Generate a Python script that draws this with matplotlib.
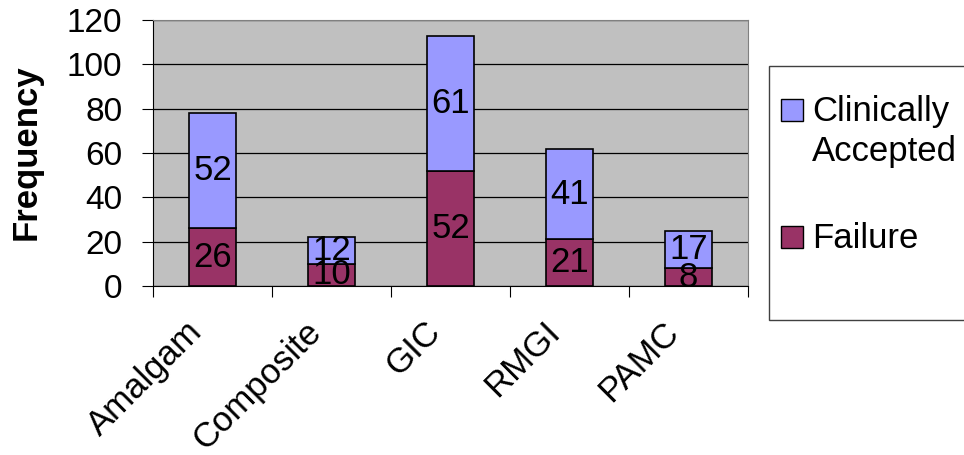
import matplotlib
matplotlib.use('agg')
import matplotlib.pyplot as plt
from matplotlib.patches import Rectangle
import numpy as np

plt.rcParams['font.family'] = ['Liberation Sans', 'DejaVu Sans']

materials = ["Amalgam", "Composite", "GIC", "RMGI", "PAMC"]
failure = [26, 10, 52, 21, 8]
accepted = [52, 12, 61, 41, 17]
y_ticks = [0, 20, 40, 60, 80, 100, 120]

col_acc = "#9999FF"
col_fail = "#993366"

W, H = 964, 455
fig = plt.figure(figsize=(W / 100, H / 100), dpi=100)
ax = fig.add_axes([153 / W, 1 - 286 / H, 595 / W, 266 / H])
ax.set_facecolor("#C0C0C0")

x = np.arange(len(materials))
b1 = ax.bar(x, failure, width=0.4, color=col_fail, edgecolor="black", linewidth=1.2, zorder=3)
b2 = ax.bar(x, accepted, width=0.4, bottom=failure, color=col_acc, edgecolor="black", linewidth=1.2,
            zorder=3)

# values in the middle of each segment
for i in range(len(materials)):
    ax.text(x[i], failure[i] / 2, str(failure[i]), ha="center", va="center", fontsize=25,
            zorder=5, clip_on=False)
    ax.text(x[i], failure[i] + accepted[i] / 2, str(accepted[i]), ha="center", va="center",
            fontsize=25, zorder=5, clip_on=False)

ax.set_xlim(-0.5, len(materials) - 0.5)
ax.set_ylim(0, 120)
ax.set_yticks(y_ticks)
ax.set_yticklabels([str(v) for v in y_ticks], fontsize=24)
ax.yaxis.grid(True, color="black", linewidth=0.9, zorder=1)
ax.set_axisbelow(True)

# category ticks sit at the boundaries; names are placed under each bar
ax.set_xticks(np.arange(len(materials) + 1) - 0.5)
ax.set_xticklabels([])
ax.tick_params(axis="x", length=8, direction="out", color="black")
ax.tick_params(axis="y", length=8, direction="out", pad=14)
for i, name in enumerate(materials):
    ax.annotate(name, xy=(x[i], 0), xycoords=("data", "axes fraction"),
                xytext=(-15, -41), textcoords="offset pixels", rotation=45,
                rotation_mode="anchor", ha="right", va="center", fontsize=25,
                annotation_clip=False)

for s in ["top", "right"]:
    ax.spines[s].set_color("#808080")
ax.spines["left"].set_color("black")
ax.spines["bottom"].set_color("black")

ax.set_ylabel("Frequency", fontsize=25, fontweight="bold")
ax.yaxis.set_label_coords(26 / W, 1 - 152 / H, transform=fig.transFigure)
ax.yaxis.label.set_va("center")

# legend, frame runs off the right edge as in the original
fig.patches.append(Rectangle((769 / W, 1 - 320 / H), 0.3, 254 / H, transform=fig.transFigure,
                             facecolor="white", edgecolor="#404040", linewidth=1))
legend_items = [(col_acc, ["Clinically", "Accepted"], 110), (col_fail, ["Failure"], 237)]
for colr, lines, yc in legend_items:
    fig.patches.append(Rectangle((781 / W, 1 - (yc + 11) / H), 22 / W, 22 / H,
                                 transform=fig.transFigure, facecolor=colr,
                                 edgecolor="black", linewidth=1))
    for k, t in enumerate(lines):
        fig.text(812 / W, 1 - (yc + 2 + 40 * k) / H, t, ha="left", va="center", fontsize=25)

plt.savefig("out.png", dpi=100)
